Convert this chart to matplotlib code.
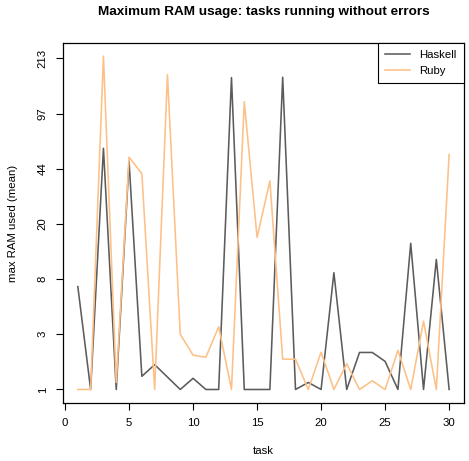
import numpy as np
import matplotlib
matplotlib.use("Agg")
import matplotlib.pyplot as plt

# dados
tasks = np.arange(1, 31)
haskell = [7, 1, 59, 1, 49, 1.3, 1.64, 1.28, 1, 1.25, 1, 1, 162, 1, 1, 1, 163, 1, 1.15, 1,
           8.9, 1, 2.09, 2.09, 1.75, 1, 14.5, 1, 11.1, 1]
ruby = [1, 1, 220, 1.15, 52, 41, 1, 169, 3, 1.98, 1.9, 3.43, 1, 115, 16, 37, 1.83, 1.83, 1, 2.1,
        1, 1.67, 1, 1.19, 1, 2.18, 1, 3.79, 1, 54]
yticks = [1, 3, 8, 20, 44, 97, 213]
xticks = [0, 5, 10, 15, 20, 25, 30]

# escala: marcas igualmente espacadas, log entre elas
lt = np.log(yticks)
idx = np.arange(len(yticks), dtype=float)


def fwd(v):
    lv = np.log(np.maximum(np.asarray(v, dtype=float), 1e-9))
    u = np.interp(lv, lt, idx)
    hi = lv > lt[-1]
    u = np.where(hi, idx[-1] + (lv - lt[-1]) / (lt[-1] - lt[-2]), u)
    lo = lv < lt[0]
    u = np.where(lo, (lv - lt[0]) / (lt[1] - lt[0]), u)
    return u


def inv(u):
    u = np.asarray(u, dtype=float)
    lv = np.interp(u, idx, lt)
    lv = np.where(u > idx[-1], lt[-1] + (u - idx[-1]) * (lt[-1] - lt[-2]), lv)
    lv = np.where(u < 0, lt[0] + u * (lt[1] - lt[0]), lv)
    return np.exp(lv)


plt.rcParams['font.family'] = ['Liberation Sans', 'DejaVu Sans']

fig = plt.figure(figsize=(4.69, 4.61), dpi=100)
ax = fig.add_axes([0.1343, 0.1258, 0.855, 0.781])
ax.set_yscale('function', functions=(fwd, inv))

ax.plot(tasks, haskell, color='#5c5c5c', lw=1.15, label='Haskell')
ax.plot(tasks, ruby, color='#FDC086', lw=1.15, label='Ruby')

ax.set_xlim(-0.16, 31.16)
ax.set_ylim(inv(-0.245), inv(6.28))
ax.set_xticks(xticks)
ax.set_yticks(yticks)
ax.set_yticklabels([str(t) for t in yticks], rotation=90, va='center')
ax.yaxis.set_minor_locator(matplotlib.ticker.NullLocator())
ax.tick_params(direction='out', length=5, width=0.8, labelsize=8.2, pad=6, color='black')

ax.set_xlabel('task', fontsize=8.2, labelpad=13)
ax.set_ylabel('max RAM used (mean)', fontsize=8.2, labelpad=14)
ax.set_title('Maximum RAM usage: tasks running without errors', fontsize=9.7,
             fontweight='bold', pad=20)

for s in ax.spines.values():
    s.set_linewidth(0.9)

leg = ax.legend(loc='upper right', fontsize=8.2, borderaxespad=0, fancybox=False,
                edgecolor='black', framealpha=1, handlelength=2.2, borderpad=0.65)
leg.get_frame().set_linewidth(0.8)

fig.savefig('out.png', dpi=100)
